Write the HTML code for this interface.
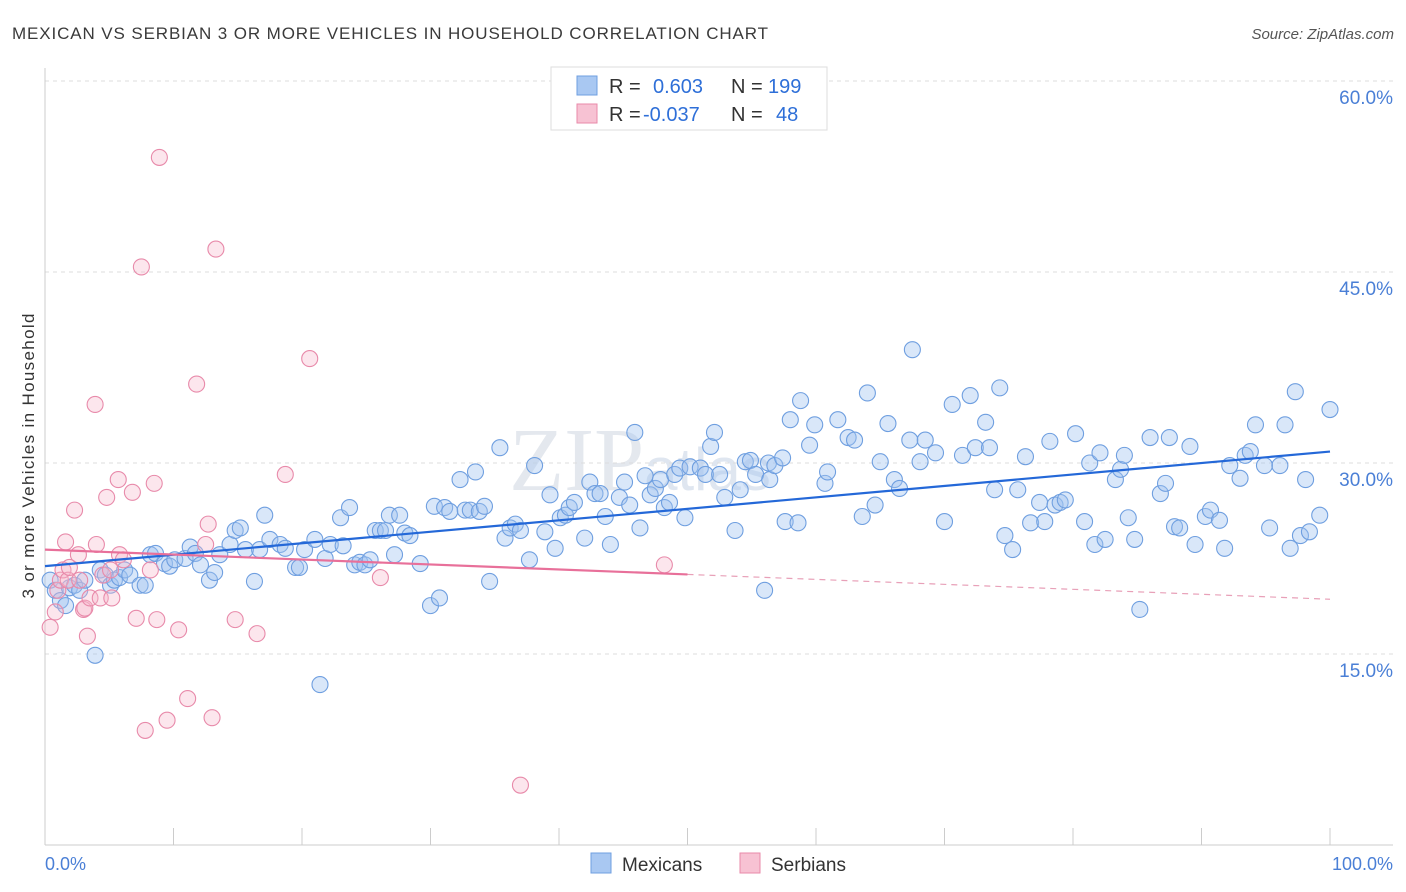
<!DOCTYPE html>
<html><head><meta charset="utf-8"><style>
body{margin:0;background:#fff;width:1406px;height:892px;overflow:hidden;font-family:"Liberation Sans",sans-serif}
svg{display:block}
</style></head><body>
<svg id="chart" width="1406" height="892" xmlns="http://www.w3.org/2000/svg">
<text x="12" y="39" font-size="17" fill="#3a3a3a" textLength="756" lengthAdjust="spacing">MEXICAN VS SERBIAN 3 OR MORE VEHICLES IN HOUSEHOLD CORRELATION CHART</text>
<text x="1394" y="39" font-size="15" fill="#555" font-style="italic" text-anchor="end">Source: ZipAtlas.com</text>
<text x="640" y="490" font-size="90" fill="#e4e8ee" font-family="Liberation Serif" text-anchor="middle">ZIP<tspan font-size="60" font-family="Liberation Sans" fill="#dfe6f0">atlas</tspan></text>
<g id="grid"></g>
<line x1="45" y1="68" x2="45" y2="845" stroke="#ccc"/>
<line x1="45" y1="845" x2="1393" y2="845" stroke="#ccc"/>
<g id="ticks"></g>
<text transform="translate(34,456) rotate(-90)" font-size="17" fill="#333" text-anchor="middle" textLength="285" lengthAdjust="spacing">3 or more Vehicles in Household</text>
<text x="45" y="870" font-size="18" fill="#4a7fd6">0.0%</text>
<text x="1393" y="870" font-size="18" fill="#4a7fd6" text-anchor="end">100.0%</text>
<g id="points"></g>
<g id="trends"></g>
<g>
<rect x="551" y="67" width="276" height="63" fill="#fff" stroke="#ddd"/>
<rect x="577" y="76" width="20" height="19" fill="#a9c8f2" stroke="#6f9fe0"/>
<rect x="577" y="104" width="20" height="19" fill="#f7c2d3" stroke="#e88aaa"/>
<text y="93" font-size="20" fill="#333"><tspan x="609">R =</tspan><tspan x="653" fill="#2e6fd8">0.603</tspan><tspan x="731">N =</tspan><tspan x="768" fill="#2e6fd8">199</tspan></text>
<text y="121" font-size="20" fill="#333"><tspan x="609">R =</tspan><tspan x="643" fill="#2e6fd8">-0.037</tspan><tspan x="731">N =</tspan><tspan x="776" fill="#2e6fd8">48</tspan></text>
</g>
<g>
<rect x="591" y="853" width="20" height="20" fill="#a9c8f2" stroke="#6f9fe0"/>
<text x="622" y="871" font-size="19" fill="#333">Mexicans</text>
<rect x="740" y="853" width="20" height="20" fill="#f7c2d3" stroke="#e88aaa"/>
<text x="771" y="871" font-size="19" fill="#333">Serbians</text>
</g>
</svg>
<script>
const yTicks=[15,30,45,60];
const yTickLabels=["15.0%","30.0%","45.0%","60.0%"];
const xTicks=[0,10,20,30,40,50,60,70,80,90,100];
const blueX=[0.4,0.8,1.2,1.6,1.9,2.3,2.7,3.1,3.9,4.3,4.7,5.1,5.4,5.8,6.2,6.6,7.4,7.8,8.2,8.6,9.3,9.7,10.1,10.9,11.3,11.7,12.1,12.8,13.2,13.6,14.4,14.8,15.2,15.6,16.3,16.7,17.1,17.5,18.3,18.7,19.5,19.8,20.2,21.0,21.4,21.8,22.2,23.0,23.2,23.7,24.1,24.5,24.9,25.3,25.7,26.1,26.5,26.8,27.2,27.6,28.0,28.4,29.2,30.0,30.3,30.7,31.1,31.5,32.3,32.7,33.1,33.5,33.8,34.2,34.6,35.4,35.8,36.2,36.6,37.0,37.7,38.1,38.9,39.3,39.7,40.1,40.5,40.8,41.2,42.0,42.4,42.8,43.2,43.6,44.0,44.7,45.1,45.5,45.9,46.3,46.7,47.1,47.5,47.9,48.2,48.6,49.0,49.4,49.8,50.2,51.0,51.4,51.8,52.1,52.5,52.9,53.7,54.1,54.5,54.9,55.3,56.0,56.3,56.4,56.8,57.4,57.6,58.0,58.6,58.8,59.5,59.9,60.7,60.9,61.7,62.5,63.0,63.6,64.0,64.6,65.0,65.6,66.1,66.5,67.3,67.5,68.1,68.5,69.3,70.0,70.6,71.4,72.0,72.4,73.2,73.5,73.9,74.3,74.7,75.3,75.7,76.3,76.7,77.4,77.8,78.2,78.6,79.0,79.4,80.2,80.9,81.3,81.7,82.1,82.5,83.3,83.7,84.0,84.3,84.8,85.2,86.0,86.8,87.2,87.5,87.9,88.3,89.1,89.5,90.3,90.7,91.4,91.8,92.2,93.0,93.4,93.8,94.2,94.9,95.3,96.1,96.5,96.9,97.3,97.7,98.1,98.4,99.2,100];
const blueY=[20.8,20.0,19.2,18.8,20.2,20.4,20.0,20.8,14.9,21.6,21.2,20.4,20.8,21.0,21.6,21.2,20.4,20.4,22.8,22.9,22.1,21.9,22.4,22.5,23.4,22.9,22.0,20.8,21.4,22.8,23.6,24.7,24.9,23.2,20.7,23.2,25.9,24.0,23.6,23.3,21.8,21.8,23.2,24.0,12.6,22.5,23.6,25.7,23.5,26.5,22.0,22.2,22.0,22.4,24.7,24.7,24.7,25.9,22.8,25.9,24.5,24.3,22.1,18.8,26.6,19.4,26.5,26.2,28.7,26.3,26.3,29.3,26.2,26.6,20.7,31.2,24.1,24.9,25.2,24.7,22.4,29.8,24.6,27.5,23.3,25.7,25.9,26.5,26.9,24.1,28.5,27.6,27.6,25.8,23.6,27.3,28.5,26.7,32.4,24.9,29.0,27.5,28.0,28.7,26.5,26.9,29.1,29.6,25.7,29.7,29.6,29.1,31.3,32.4,29.1,27.3,24.7,27.9,30.1,30.2,29.1,20.0,30.0,28.7,29.8,30.4,25.4,33.4,25.3,34.9,31.4,33.0,28.4,29.3,33.4,32.0,31.8,25.8,35.5,26.7,30.1,33.1,28.7,28.0,31.8,38.9,30.1,31.8,30.8,25.4,34.6,30.6,35.3,31.2,33.2,31.2,27.9,35.9,24.3,23.2,27.9,30.5,25.3,26.9,25.4,31.7,26.7,26.9,27.1,32.3,25.4,30.0,23.6,30.8,24.0,28.7,29.5,30.6,25.7,24.0,18.5,32.0,27.6,28.4,32.0,25.0,24.9,31.3,23.6,25.8,26.3,25.5,23.3,29.8,28.8,30.6,30.9,33.0,29.8,24.9,29.8,33.0,23.3,35.6,24.3,28.7,24.6,25.9,34.2];
const pinkX=[0.4,0.8,1.0,1.2,1.4,1.6,1.8,1.9,2.3,2.6,2.7,3.0,3.1,3.3,3.5,3.9,4.0,4.3,4.5,4.8,5.1,5.2,5.7,5.8,6.1,6.8,7.1,7.5,7.8,8.2,8.5,8.7,8.9,9.5,10.4,11.1,11.8,12.5,12.7,13.0,13.3,14.8,16.5,18.7,20.6,26.1,37.0,48.2];
const pinkY=[17.1,18.3,20.0,20.8,21.6,23.8,20.8,21.8,26.3,22.8,20.8,18.5,18.6,16.4,19.4,34.6,23.6,19.4,21.2,27.3,21.6,19.4,28.7,22.8,22.4,27.7,17.8,45.4,9.0,21.6,28.4,17.7,54.0,9.8,16.9,11.5,36.2,23.6,25.2,10.0,46.8,17.7,16.6,29.1,38.2,21.0,4.7,22.0];
const blueTrend=[21.9,30.9];
const pinkTrend=[23.2,19.3];
const pinkSolidEnd=50;

const NS="http://www.w3.org/2000/svg";
const X=v=>45+v*12.85;
const Y=v=>845-v*12.733;
function mk(t,a,p){const e=document.createElementNS(NS,t);for(const k in a)e.setAttribute(k,a[k]);p.appendChild(e);return e;}
const grid=document.getElementById('grid');
yTicks.forEach((t,i)=>{
 const l=mk('line',{x1:45,x2:1393,y1:Y(t),y2:Y(t),stroke:'#ddd','stroke-dasharray':'4,4'},grid);
 
 
 const tx=mk('text',{x:1393,y:Y(t)+23,'font-size':19,fill:'#4a7fd6','text-anchor':'end'},grid);
 tx.textContent=yTickLabels[i];
 
 
});
const ticks=document.getElementById('ticks');
xTicks.forEach(t=>{
 const l=mk('line',{x1:X(t),x2:X(t),y1:828,y2:845,stroke:'#ccc'},ticks);
 
 
});
const pts=document.getElementById('points');
blueX.forEach((x,i)=>{
 const c=mk('circle',{cx:X(x),cy:Y(blueY[i]),r:8,fill:'rgba(160,196,240,0.4)',stroke:'#6f9fe0','stroke-width':1.1},pts);
 
 
});
pinkX.forEach((x,i)=>{
 const c=mk('circle',{cx:X(x),cy:Y(pinkY[i]),r:8,fill:'rgba(246,184,204,0.35)',stroke:'#e88aaa','stroke-width':1.1},pts);
 
 
});
const tr=document.getElementById('trends');
const bl=mk('line',{x1:X(0),y1:Y(blueTrend[0]),x2:X(100),y2:Y(blueTrend[1]),stroke:'#2468d8','stroke-width':2.2},tr);


const pm=pinkTrend[0]+(pinkTrend[1]-pinkTrend[0])*pinkSolidEnd/100;
const ps=mk('line',{x1:X(0),y1:Y(pinkTrend[0]),x2:X(pinkSolidEnd),y2:Y(pm),stroke:'#e8709a','stroke-width':2.2},tr);


const pd=mk('line',{x1:X(pinkSolidEnd),y1:Y(pm),x2:X(100),y2:Y(pinkTrend[1]),stroke:'#e8a0b8','stroke-width':1.2,'stroke-dasharray':'6,5'},tr);


</script>
</body></html>
